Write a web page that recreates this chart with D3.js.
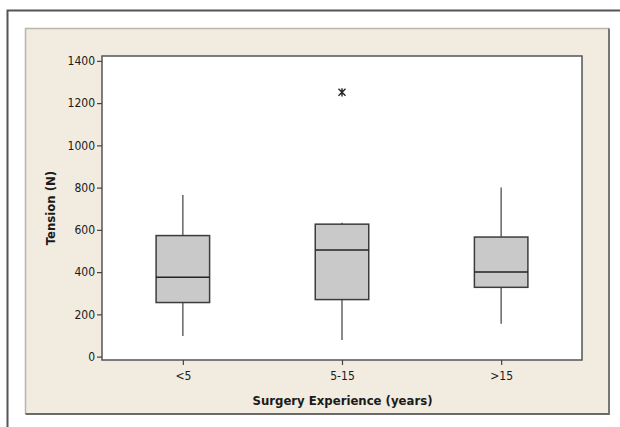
<!DOCTYPE html>
<html>
<head>
<meta charset="utf-8">
<script src="https://cdn.jsdelivr.net/npm/d3@7"></script>
<style>
  html, body { margin: 0; padding: 0; background: #fff; }
  svg { display: block; }
  text { font-family: "DejaVu Sans Condensed", "DejaVu Sans", sans-serif; fill: #1a1a1a; }
</style>
</head>
<body>
<svg id="chart" width="620" height="427"></svg>
<script>
// ---- data ----
const categories = ["<5", "5-15", ">15"];
const whiskerLow  = [98, 79, 155];
const q1          = [256, 270, 328];
const median      = [376, 505, 400];
const q3          = [573, 627, 566];
const whiskerHigh = [765, 634, 800];
const outlierCategory = ["5-15"];
const outlierValue    = [1251];
const yTicks = [0, 200, 400, 600, 800, 1000, 1200, 1400];
const xTitle = "Surgery Experience (years)";
const yTitle = "Tension (N)";

(function () {
const svg = d3.select("#chart");

// outer frame
svg.append("path")
  .attr("d", "M7.5,427 L7.5,10.5 L620,10.5")
  .attr("fill", "none").attr("stroke", "#555").attr("stroke-width", 2);

// beige panel
svg.append("rect").attr("x", 25.5).attr("y", 28.5).attr("width", 583.5).attr("height", 385)
  .attr("fill", "#f1ebe0");
svg.append("path").attr("d", "M25.5,414 L25.5,28.5 L609,28.5")
  .attr("fill", "none").attr("stroke", "#b8b5ae").attr("stroke-width", 1.5);
svg.append("path").attr("d", "M609,28.5 L609,414 L25.5,414")
  .attr("fill", "none").attr("stroke", "#6a6a6a").attr("stroke-width", 1.8);

// plot area
const pLeft = 102, pRight = 582, pTop = 56, pBottom = 360;
svg.append("rect").attr("x", pLeft).attr("y", pTop).attr("width", pRight - pLeft).attr("height", pBottom - pTop)
  .attr("fill", "#fff").attr("stroke", "#555").attr("stroke-width", 1.5);

const x = d3.scalePoint().domain(categories).range([pLeft, pRight]).padding(0.508);
const y = d3.scaleLinear().domain([-16, 1423]).range([pBottom, pTop]);

// axes
const yAxis = svg.append("g").attr("transform", `translate(${pLeft},0)`)
  .call(d3.axisLeft(y).tickValues(yTicks).tickSize(5).tickPadding(2).tickFormat(d3.format("d")));
yAxis.select(".domain").remove();
yAxis.selectAll(".tick line").attr("stroke", "#444").attr("stroke-width", 1.2);
yAxis.selectAll(".tick text").style("font-size", "12px").attr("fill", "#1a1a1a");

const xAxis = svg.append("g").attr("transform", `translate(0,${pBottom})`)
  .call(d3.axisBottom(x).tickSize(5).tickPadding(6));
xAxis.select(".domain").remove();
xAxis.selectAll(".tick line").attr("stroke", "#444").attr("stroke-width", 1.2);
xAxis.selectAll(".tick text").style("font-size", "12px").attr("fill", "#1a1a1a");

// titles
svg.append("text").attr("x", 342.5).attr("y", 405).attr("text-anchor", "middle")
  .style("font-size", "13px").style("font-weight", "bold").text(xTitle);
svg.append("text").attr("transform", `translate(55,${(pTop + pBottom) / 2}) rotate(-90)`)
  .attr("text-anchor", "middle")
  .style("font-size", "13px").style("font-weight", "bold").text(yTitle);

// boxes
const boxW = 53.5;
const rows = categories.map((c, i) => ({c, lo: whiskerLow[i], q1: q1[i], med: median[i], q3: q3[i], hi: whiskerHigh[i]}));
const g = svg.append("g");
rows.forEach(r => {
  const cx = x(r.c);
  g.append("line").attr("x1", cx).attr("x2", cx).attr("y1", y(r.q3)).attr("y2", y(r.hi))
    .attr("stroke", "#5a5a5a").attr("stroke-width", 1.4);
  g.append("line").attr("x1", cx).attr("x2", cx).attr("y1", y(r.q1)).attr("y2", y(r.lo))
    .attr("stroke", "#5a5a5a").attr("stroke-width", 1.4);
  g.append("rect").attr("x", cx - boxW / 2).attr("y", y(r.q3)).attr("width", boxW).attr("height", y(r.q1) - y(r.q3))
    .attr("fill", "#c9c9c9").attr("stroke", "#3c3c3c").attr("stroke-width", 1.5);
  g.append("line").attr("x1", cx - boxW / 2).attr("x2", cx + boxW / 2).attr("y1", y(r.med)).attr("y2", y(r.med))
    .attr("stroke", "#222").attr("stroke-width", 1.5);
});

// outliers (asterisk)
outlierValue.forEach((v, i) => {
  const cx = x(outlierCategory[i]), cy = y(v);
  const s = 3.5;
  const p = d3.path();
  p.moveTo(cx - s, cy - s); p.lineTo(cx + s, cy + s);
  p.moveTo(cx - s, cy + s); p.lineTo(cx + s, cy - s);
  p.moveTo(cx, cy - s * 1.2); p.lineTo(cx, cy + s * 1.2);
  svg.append("path").attr("d", p.toString()).attr("stroke", "#222").attr("stroke-width", 1.4).attr("fill", "none");
});
})();
</script>
</body>
</html>
